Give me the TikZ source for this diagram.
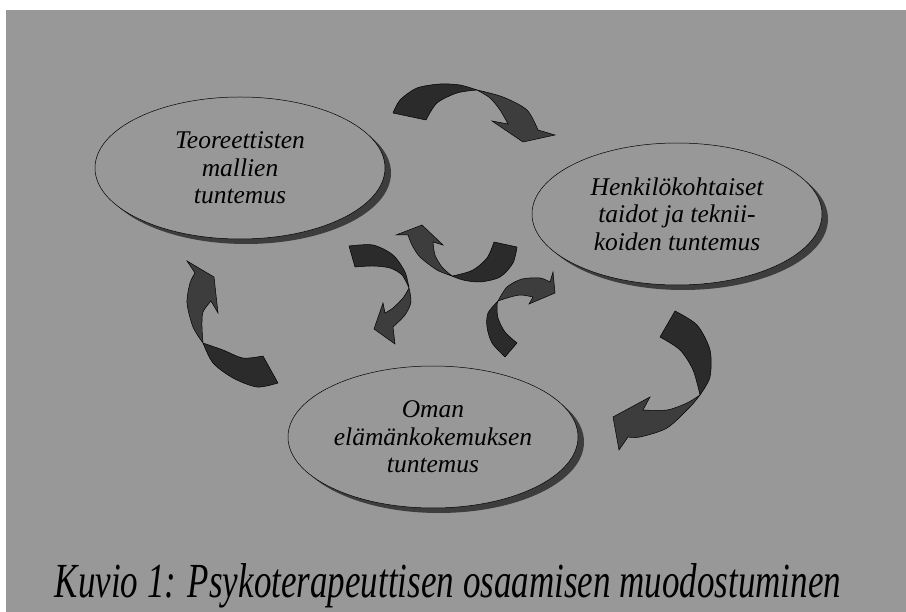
\documentclass[tikz,border=0pt]{standalone}
\usepackage{fontspec}
\setmainfont{Liberation Serif}
\usetikzlibrary{shapes.geometric,shadows}
\definecolor{paper}{HTML}{989898}
\definecolor{backside}{HTML}{2B2B2B}
\definecolor{frontside}{HTML}{3D3D3D}

\begin{document}
\begin{tikzpicture}[x=1pt,y=-1pt,
  bubble/.style={ellipse,draw=black,line width=0.5pt,fill=paper,
    minimum width=290pt,minimum height=142pt,inner sep=0pt,align=center,
    font=\fontsize{25.5}{27.5}\selectfont\itshape,
    drop shadow={shadow xshift=6pt,shadow yshift=-5pt,fill=black!76,opacity=1}},
  tailpart/.style={fill=backside,draw=black,line width=0.5pt,line join=round},
  headpart/.style={fill=frontside,draw=black,line width=0.5pt}]

\useasboundingbox (0,0) rectangle (906,612);
\fill[paper] (6,10) rectangle (906,612);

\node[bubble] (teor) at (240,168) {Teoreettisten\\mallien\\tuntemus};
\node[bubble] (henk) at (677,214) {Henkilökohtaiset\\taidot ja teknii-\\koiden tuntemus};
\node[bubble] (oman) at (433,437) {Oman\\elämänkokemuksen\\tuntemus};

% teor -> henk, over the top
\filldraw[tailpart] plot[smooth] coordinates {(393,113) (400,100) (417,88) (440,84) (460,85) (477,90)}
  -- plot[smooth] coordinates {(477,90) (457,93) (437,103) (426,120)} -- cycle;
\filldraw[headpart] plot[smooth] coordinates {(477,90) (503,97) (527,110) (538,130)}
  -- (555,135) -- (523,142) -- (492,121) -- (508,124)
  -- plot[smooth] coordinates {(508,124) (500,110) (490,98) (477,90)} -- cycle;

% teor -> oman, middle left
\filldraw[tailpart] plot[smooth] coordinates {(349,246) (373,245) (393,255) (405,272) (409,288)}
  -- plot[smooth] coordinates {(409,288) (402,275) (390,268) (373,266) (355,267)} -- cycle;
\filldraw[headpart] plot[smooth] coordinates {(409,288) (411,302) (405,315) (393,327)}
  -- (395,344) -- (374,329) -- (383,303) -- (385,313)
  -- plot[smooth] coordinates {(385,313) (393,308) (403,298) (409,288)} -- cycle;

% henk -> teor, middle
\filldraw[tailpart] plot[smooth] coordinates {(517,247) (513,263) (500,277) (480,282) (463,280) (452,276)}
  -- plot[smooth] coordinates {(452,276) (457,275) (473,270) (487,258) (494,242)} -- cycle;
\filldraw[headpart] plot[smooth] coordinates {(452,276) (437,270) (420,257) (412,245) (408,235)}
  -- (396,235) -- (422,225) -- (443,245) -- (433,242)
  -- plot[smooth] coordinates {(433,242) (435,255) (442,267) (452,276)} -- cycle;

% oman -> henk, middle right
\filldraw[tailpart] plot[smooth] coordinates {(505,357) (492,343) (487,327) (488,313) (498,301)}
  -- plot[smooth] coordinates {(498,301) (497,305) (498,318) (505,332) (517,343)} -- cycle;
\filldraw[headpart] plot[smooth] coordinates {(498,301) (507,287) (522,279) (540,278) (550,282)}
  -- (553,272) -- (555,293) -- (529,304) -- (533,297)
  -- plot[smooth] coordinates {(533,297) (520,295) (507,298) (498,301)} -- cycle;

% oman -> teor, left
\filldraw[tailpart] plot[smooth] coordinates {(278,383) (257,387) (233,378) (213,363) (203,343)}
  -- plot[smooth] coordinates {(203,343) (223,350) (243,358) (263,356)} -- cycle;
\filldraw[headpart] plot[smooth] coordinates {(203,343) (193,327) (187,303) (190,283) (195,273)}
  -- (187,261) -- (214,277) -- (218,313) -- (211,301)
  -- plot[smooth] coordinates {(211,301) (203,312) (202,327) (203,343)} -- cycle;

% henk -> oman, right
\filldraw[tailpart] plot[smooth] coordinates {(675,311) (697,325) (710,350) (710,377) (700,395)}
  -- plot[smooth] coordinates {(700,395) (693,370) (680,350) (660,337)} -- cycle;
\filldraw[headpart] plot[smooth] coordinates {(700,395) (690,407) (667,428) (640,437) (628,437)}
  -- (619,450) -- (613,417) -- (650,397) -- (643,410)
  -- plot[smooth] coordinates {(643,410) (667,410) (687,403) (700,395)} -- cycle;

\node (kuvio) at (448,586) {\scalebox{1}[1.4]{\fontsize{35}{40}\selectfont\itshape Kuvio 1: Psykoterapeuttisen osaamisen muodostuminen}};

\end{tikzpicture}
\end{document}
